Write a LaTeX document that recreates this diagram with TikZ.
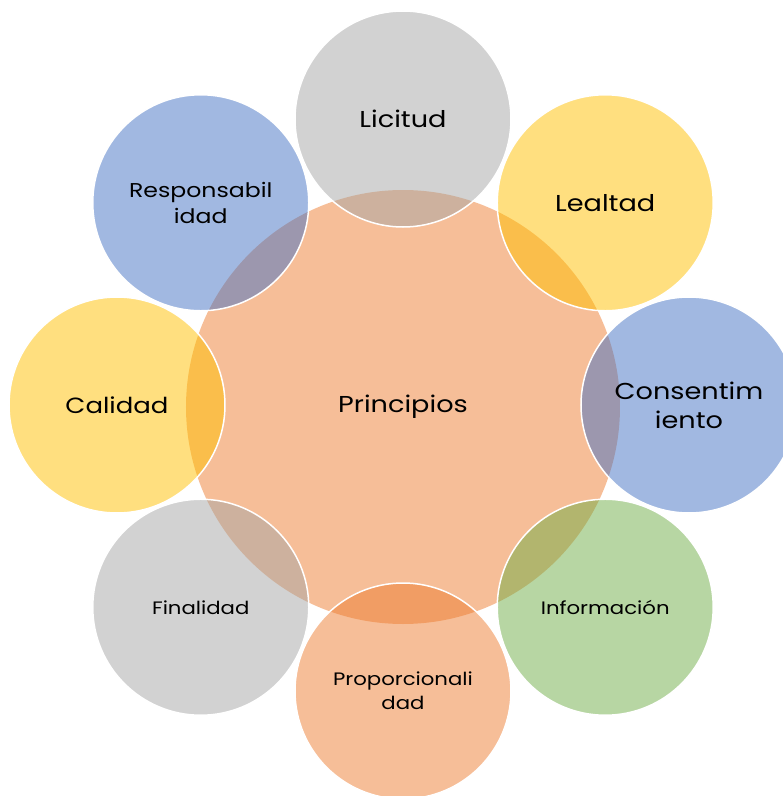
\documentclass[tikz,border=0pt]{standalone}
\usepackage{fontspec}
\setmainfont{Poppins}[FakeStretch=1.18]
\definecolor{ogray}{HTML}{A5A5A5}
\definecolor{ogold}{HTML}{FFC000}
\definecolor{oblue}{HTML}{4472C4}
\definecolor{ogreen}{HTML}{70AD47}
\definecolor{oorange}{HTML}{ED7D31}
\begin{document}
\begin{tikzpicture}[
        x=1pt, y=1pt,
        mid/.style={circle, minimum size=434pt, inner sep=0pt, fill=oorange,
          fill opacity=0.5, text opacity=1},
        sat/.style={circle, minimum size=216pt, inner sep=0pt, align=center,
          fill opacity=0.5, text opacity=1, draw=white, line width=1.5pt}
      ]
      \useasboundingbox (-403,-391) rectangle (380,405);
      \clip (-403,-391) rectangle (380,405);
      \node[mid, font=\fontsize{23}{28}\selectfont] (p) at (0,-2) {Principios};
      \foreach \a/\t/\c/\s/\b [count=\i] in {
          90/Licitud/ogray/23/28,
          45/Lealtad/ogold/23/28,
          0/{Consentim\\iento}/oblue/23/29,
          -45/Información/ogreen/18/22,
          -90/{Proporcionali\\dad}/oorange/18/24,
          -135/Finalidad/ogray/18/22,
          180/Calidad/ogold/22/28,
          135/{Responsabil\\idad}/oblue/20/26} {
        \node[sat, fill=\c, font=\fontsize{\s}{\b}\selectfont] (s\i) at (\a:286) {\t};
      }
    \end{tikzpicture}
\end{document}
